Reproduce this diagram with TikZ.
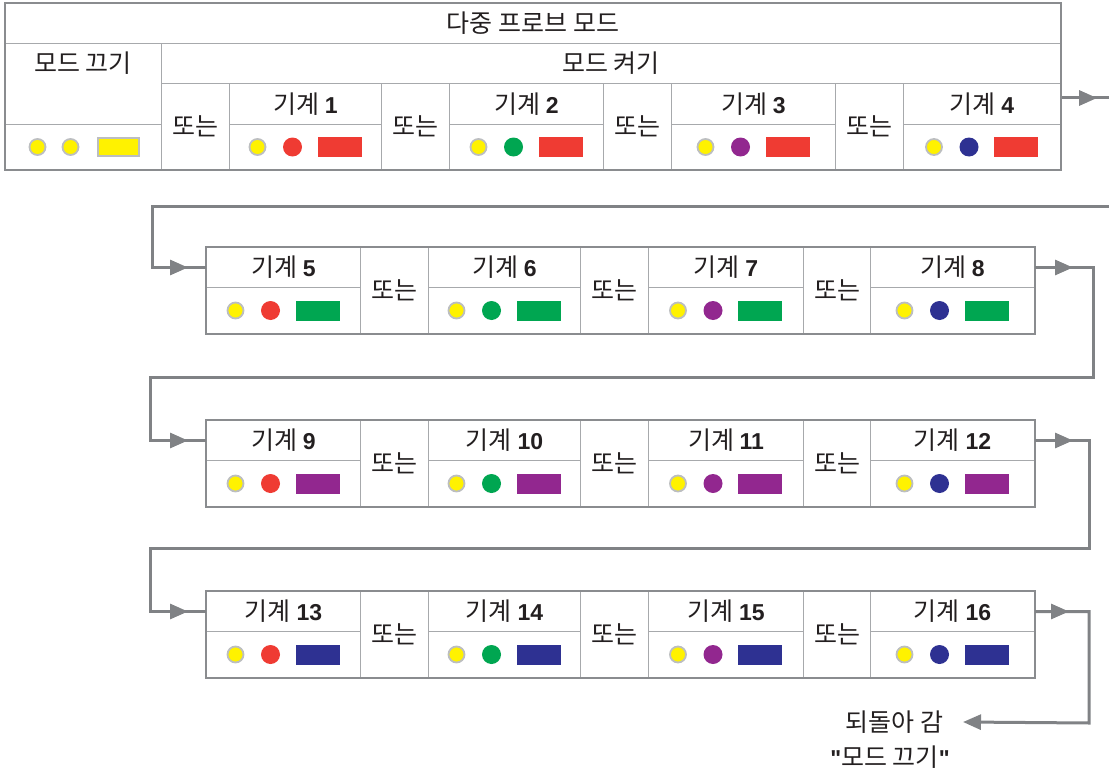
\documentclass[tikz,border=0pt]{standalone}
\usepackage{fontspec}
\setmainfont{Noto Sans CJK KR}
\newfontfamily\numfont{Liberation Sans}
\usepackage{xcolor}
\usetikzlibrary{positioning, fit, arrows.meta, decorations.markings}
\definecolor{gridgray}{HTML}{A7A9AC}
\definecolor{framegray}{HTML}{8A8C8F}
\definecolor{wiregray}{HTML}{808285}
\definecolor{inkgray}{HTML}{231F20}
\definecolor{ledyellow}{HTML}{FFF200}
\definecolor{ledring}{HTML}{BCBEC0}
\definecolor{ledred}{HTML}{EF3B33}
\definecolor{ledgreen}{HTML}{00A651}
\definecolor{ledpurple}{HTML}{92278F}
\definecolor{ledblue}{HTML}{2E3192}
\newcommand{\num}[1]{{\numfont\bfseries\fontsize{23}{26}\selectfont #1}}

\begin{document}
\begin{tikzpicture}[x=1pt,y=-1pt,
	cell/.style={draw=gridgray,line width=1pt,inner sep=0pt,anchor=north west,
		text=inkgray,font=\fontsize{25}{28}\selectfont},
	frame/.style={draw=framegray,line width=2.2pt,inner sep=0pt},
	led/.style={circle,fill=ledyellow,draw=ledring,line width=1.8pt,minimum size=16pt,inner sep=0pt},
	lamp/.style={circle,minimum size=19pt,inner sep=0pt},
	bar/.style={minimum width=44pt,minimum height=20pt,inner sep=0pt},
	wire/.style={color=wiregray,line width=3pt},
	tip/.style={-{Triangle[length=18pt,width=15pt]}},
	tipat/.style={postaction={decorate,decoration={markings,
		mark=at position #1 with {\arrow{Triangle[length=18pt,width=15pt]}}}}},
	txt/.style={text=inkgray,font=\fontsize{25}{28}\selectfont}]
	\useasboundingbox (0,0) rectangle (1109,776);
	% multi probe block
	\node[cell,minimum width=1055pt,minimum height=40pt] (title) at (5,3) {다중 프로브 모드};
	\node[cell,minimum width=156pt,minimum height=81pt] (off) at (5,43) {};
	\node[txt] (offtext) at (83,63) {모드 끄기};
	\node[cell,minimum width=156pt,minimum height=45pt] (offled) at (5,124) {};
	\node[led,xshift=-46pt] at (offled) {};
	\node[led,xshift=-13pt] at (offled) {};
	\node[bar,fill=ledyellow,draw=ledring,line width=1.8pt,xshift=35pt,minimum width=41pt,minimum height=18pt] at (offled) {};
	\node[cell,minimum width=899pt,minimum height=40pt] (on) at (161,43) {모드 켜기};
	\foreach \x [count=\i] in {161,381,603,835}
	\node[cell,minimum width=68pt,minimum height=86pt] (or0\i) at (\x,83) {또는};
	\foreach \n/\x/\w/\l in {1/229/152/ledred,2/449/154/ledgreen,3/671/164/ledpurple,4/903/157/ledblue}
	{\node[cell,minimum width=\w pt,minimum height=41pt] (m\n) at (\x,83) {기계 \num{\n}};
		\node[cell,minimum width=\w pt,minimum height=45pt] (d\n) at (\x,124) {};
		\node[led,xshift=-48pt] at (d\n) {};
		\node[lamp,fill=\l,xshift=-13pt] at (d\n) {};
		\node[bar,fill=ledred,xshift=34pt] at (d\n) {};}
	\node[frame,fit=(title)(offled)(d4)] (top) {};
	% single machine rows
	\foreach \r/\y/\c in {1/247/ledgreen,2/420/ledpurple,3/591/ledblue}
	{\pgfmathtruncatemacro{\first}{4*\r+1}
		\pgfmathtruncatemacro{\last}{4*\r+4}
		\foreach \k/\x/\w/\l in {1/206/154/ledred,2/428/152/ledgreen,3/648/155/ledpurple,4/870/164/ledblue}
		{\pgfmathtruncatemacro{\n}{4*\r+\k}
			\node[cell,minimum width=\w pt,minimum height=40pt] (m\n) at (\x,\y) {기계 \num{\n}};
			\node[cell,minimum width=\w pt,minimum height=46pt] (d\n) at (\x,\y+40) {};
			\node[led,xshift=-48pt] at (d\n) {};
			\node[lamp,fill=\l,xshift=-13pt] at (d\n) {};
			\node[bar,fill=\c,xshift=34pt] at (d\n) {};}
		\foreach \x/\w [count=\i] in {360/68,580/68,803/67}
		\node[cell,minimum width=\w pt,minimum height=86pt] (or\r\i) at (\x,\y) {또는};
		\node[frame,fit=(m\first)(d\last)] (row\r) {};}
	% wires between the rows
	\coordinate (out0) at (1109,98);
	\coordinate (in1) at (1109,206);
	\draw[wire,tipat=35pt] (top.east |- out0) -- (out0);
	\draw[wire,tipat=-18pt] (in1) -- (152,206) |- (m5.west);
	\draw[wire,tipat=38pt,tipat=-18pt] (m8.east) -| (1093,377) -- (150,377) |- (m9.west);
	\draw[wire,tipat=38pt,tipat=-18pt] (m12.east) -| (1089,548) -- (150,548) |- (m13.west);
	\node[txt,anchor=east] (ret) at (947,722) {되돌아 감};
	\node[txt] (retmode) at (890,757) {{\num{"}}모드 끄기{\num{"}}};
	\draw[wire,tipat=34pt,tip] (m16.east) -| (1089,723) -- ([xshift=16pt]ret.east);
\end{tikzpicture}
\end{document}
